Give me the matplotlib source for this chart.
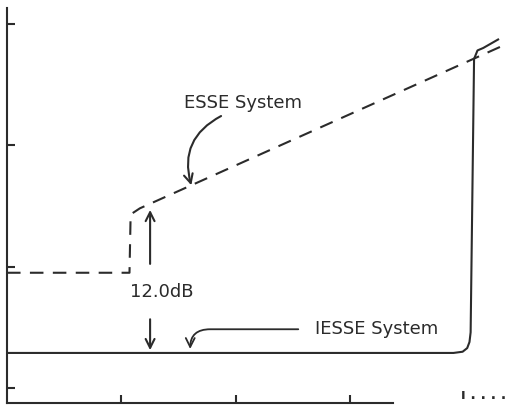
import matplotlib.pyplot as plt

# ESSE system response (dashed) and IESSE system response (solid), levels in dB
esse_x = [0.0, 1.07, 1.08, 1.16, 4.31]
esse_y = [19.5, 19.5, 24.3, 24.8, 38.1]

iesse_x = [0.0, 3.90, 3.98, 4.02, 4.04, 4.05, 4.08, 4.11, 4.16, 4.29]
iesse_y = [12.9, 12.9, 13.0, 13.3, 13.8, 14.6, 37.1, 37.8, 38.0, 38.7]

x_ticks = [1, 2, 3]
y_ticks = [10, 20, 30, 40]

ink = '#2b2b2b'

fig = plt.figure(figsize=(5.21, 4.07), dpi=100)
ax = fig.add_axes([7 / 521, 4 / 407, 514 / 521, 403 / 407])
ax.set_xlim(0, 4.49)
ax.set_ylim(8.78, 41.95)

ax.plot(esse_x, esse_y, color=ink, lw=1.5, dashes=(6.5, 4.5))
ax.plot(iesse_x, iesse_y, color=ink, lw=1.5)

# 12 dB double arrow
ax.annotate('', xy=(1.25, 24.9), xytext=(1.25, 20.0),
            arrowprops=dict(arrowstyle='->', color=ink, lw=1.5, mutation_scale=16))
ax.annotate('', xy=(1.25, 12.9), xytext=(1.25, 15.9),
            arrowprops=dict(arrowstyle='->', color=ink, lw=1.5, mutation_scale=16))
ax.text(1.35, 17.9, '12.0dB', ha='center', va='center', fontsize=13, color=ink)

# labels with curved leaders
ax.text(2.06, 33.5, 'ESSE System', ha='center', va='center', fontsize=13, color=ink)
ax.annotate('', xy=(1.61, 26.7), xytext=(1.87, 32.4),
            arrowprops=dict(arrowstyle='->', color=ink, lw=1.5, mutation_scale=16,
                            shrinkA=0, shrinkB=0,
                            connectionstyle='arc3,rad=0.4'))
ax.annotate('IESSE System', xy=(1.60, 13.0), xytext=(2.69, 14.85),
            ha='left', va='center', fontsize=13, color=ink,
            arrowprops=dict(arrowstyle='->', color=ink, lw=1.3, mutation_scale=16,
                            shrinkA=10,
                            connectionstyle='angle,angleA=0,angleB=90,rad=20'))

# axes: only left and bottom, ticks pointing inward
for side in ['top', 'right']:
    ax.spines[side].set_visible(False)
ax.spines['left'].set_bounds(8.78, 41.3)
ax.spines['bottom'].set_bounds(0, 3.37)
for side in ['left', 'bottom']:
    ax.spines[side].set_color(ink)
    ax.spines[side].set_linewidth(1.5)
ax.set_xticks(x_ticks)
ax.set_yticks(y_ticks)
ax.tick_params(direction='in', length=6, width=1.5, color=ink,
               labelbottom=False, labelleft=False)

ax.text(3.97, 8.85, 'ı . . . .', fontsize=10, fontweight='bold', color=ink,
        ha='left', va='bottom')

fig.savefig('out.png', dpi=100)
